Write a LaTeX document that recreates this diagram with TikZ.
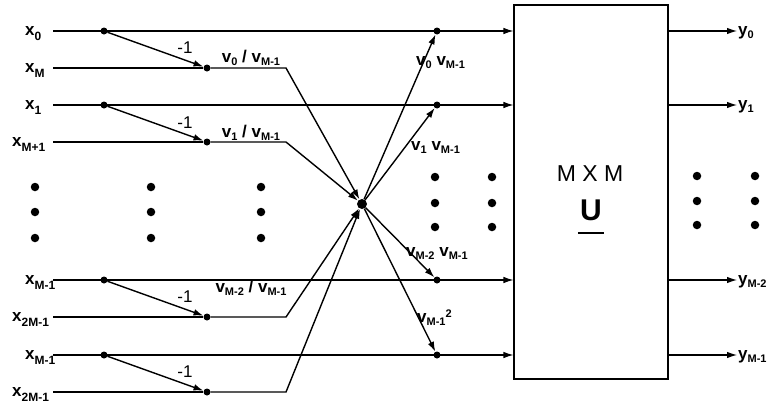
\documentclass[tikz,border=0pt]{standalone}
\usepackage{fontspec}
\setmainfont{Liberation Sans}
\usetikzlibrary{arrows.meta}
\newcommand\xsb[2]{#1\raisebox{-5.5pt}{\fontsize{12}{12}\selectfont #2}}
\newcommand\vsb[2]{#1\raisebox{-3.5pt}{\fontsize{11}{11}\selectfont #2}}
\begin{document}
\begin{tikzpicture}[x=1pt,y=-1pt,
  wire/.style={line width=1.1pt},
  harr/.style={line width=1.1pt,-{Latex[length=10pt,width=6.5pt]}},
  darr/.style={line width=1.4pt,-{Latex[length=10pt,width=6.5pt]}},
  jdot/.style={circle,fill,inner sep=0pt,minimum size=7pt},
  bdot/.style={circle,fill,inner sep=0pt,minimum size=8.5pt},
  cdot/.style={circle,fill,inner sep=0pt,minimum size=10pt},
  lab/.style={inner sep=0pt,font=\fontsize{17}{17}\bfseries\selectfont},
  one/.style={inner sep=0pt,font=\fontsize{17}{17}\selectfont},
  ubox/.style={draw,line width=1.1pt,minimum width=154pt,minimum height=374pt,inner sep=0pt}]
\useasboundingbox (0,0) rectangle (781,407);
% input labels
\node[lab,anchor=base west] (lx0) at (25,35) {\xsb{x}{0}};
\node[lab,anchor=base west] (lx1) at (25,72) {\xsb{x}{M}};
\node[lab,anchor=base west] (lx2) at (25,109) {\xsb{x}{1}};
\node[lab,anchor=base west] (lx3) at (12,146) {\xsb{x}{M+1}};
\node[lab,anchor=base west] (lx4) at (25,284) {\xsb{x}{M-1}};
\node[lab,anchor=base west] (lx5) at (12,321) {\xsb{x}{2M-1}};
\node[lab,anchor=base west] (lx6) at (25,359) {\xsb{x}{M-1}};
\node[lab,anchor=base west] (lx7) at (12,396) {\xsb{x}{2M-1}};
% line starts
\coordinate (s0) at (53,31);
\coordinate (s1) at (53,68);
\coordinate (s2) at (53,105);
\coordinate (s3) at (53,142);
\coordinate (s4) at (53,280);
\coordinate (s5) at (53,317);
\coordinate (s6) at (53,355);
\coordinate (s7) at (53,392);
% bends
\coordinate (k1) at (286,68);
\coordinate (k3) at (286,142);
\coordinate (k5) at (286,317);
\coordinate (k7) at (286,392);
% box
\node[ubox] (U) at (591,192) {};
\node[inner sep=0pt,font=\fontsize{23}{23}\selectfont] (mxm) at (590,174) {M X M};
\node[inner sep=0pt,anchor=base,font=\fontsize{30}{30}\bfseries\selectfont] (ulab) at (591,220) {U};
\draw[line width=2pt] ([xshift=-2pt,yshift=-13pt]ulab.base west) -- ([xshift=2pt,yshift=-13pt]ulab.base east);
% junctions
\node[jdot] (a0) at (104,31) {};
\node[jdot] (a2) at (104,105) {};
\node[jdot] (a4) at (104,280) {};
\node[jdot] (a6) at (104,355) {};
\node[jdot] (b1) at (207,68) {};
\node[jdot] (b3) at (207,142) {};
\node[jdot] (b5) at (207,317) {};
\node[jdot] (b7) at (207,392) {};
\node[cdot] (c) at (362,204) {};
\node[jdot] (o0) at (437,31) {};
\node[jdot] (o2) at (437,105) {};
\node[jdot] (o4) at (437,280) {};
\node[jdot] (o6) at (437,355) {};
% straight lines into box
\draw[harr] (s0) -- (s0 -| U.west);
\draw[harr] (s2) -- (s2 -| U.west);
\draw[harr] (s4) -- (s4 -| U.west);
\draw[harr] (s6) -- (s6 -| U.west);
% lower lines to centre
\draw[wire] (s1) -- (b1);
\draw[wire] (s3) -- (b3);
\draw[wire] (s5) -- (b5);
\draw[wire] (s7) -- (b7);
\draw[darr] (b1) -- (k1) -- (c);
\draw[darr] (b3) -- (k3) -- (c);
\draw[darr] (b5) -- (k5) -- (c);
\draw[darr] (b7) -- (k7) -- (c);
% -1 branches
\draw[darr] (a0) -- (b1);
\draw[darr] (a2) -- (b3);
\draw[darr] (a4) -- (b5);
\draw[darr] (a6) -- (b7);
% centre to outputs
\draw[darr] (c) -- (o0);
\draw[darr] (c) -- (o2);
\draw[darr] (c) -- (o4);
\draw[darr] (c) -- (o6);
% -1 labels
\node[one] (m0) at (185,48) {-1};
\node[one] (m1) at (185,123) {-1};
\node[one] (m2) at (185,297) {-1};
\node[one] (m3) at (185,372) {-1};
% ratio labels
\node[lab,anchor=base] (r0) at (251,62) {\vsb{v}{0} / \vsb{v}{M-1}};
\node[lab,anchor=base] (r1) at (251,137) {\vsb{v}{1} / \vsb{v}{M-1}};
\node[lab,anchor=base] (r2) at (251,292) {\vsb{v}{M-2} / \vsb{v}{M-1}};
% product labels
\node[lab,anchor=base west] (p0) at (416,65) {\vsb{v}{0} \vsb{v}{M-1}};
\node[lab,anchor=base west] (p1) at (411,150) {\vsb{v}{1} \vsb{v}{M-1}};
\node[lab,anchor=base west] (p2) at (406,256) {\vsb{v}{M-2} \vsb{v}{M-1}};
\node[lab,anchor=base west] (p3) at (417,322) {\vsb{v}{M-1}\raisebox{5pt}{\fontsize{11}{11}\selectfont 2}};
% outputs
\coordinate (t0) at (737,31);
\coordinate (t1) at (737,105);
\coordinate (t2) at (737,280);
\coordinate (t3) at (737,355);
\draw[harr] (U.east |- t0) -- (t0);
\draw[harr] (U.east |- t1) -- (t1);
\draw[harr] (U.east |- t2) -- (t2);
\draw[harr] (U.east |- t3) -- (t3);
\node[lab,anchor=base west] (y0) at (738,35) {\vsb{y}{0}};
\node[lab,anchor=base west] (y1) at (738,109) {\vsb{y}{1}};
\node[lab,anchor=base west] (y2) at (738,284) {\vsb{y}{M-2}};
\node[lab,anchor=base west] (y3) at (738,359) {\vsb{y}{M-1}};
% ellipsis dots
\foreach \xx/\yy [count=\i] in {35/187,35/212,35/238,151/187,151/212,151/238,261/187,261/212,261/238,
  435/177,435/203,435/227,492/177,492/203,492/227,
  697/176,697/201,697/225,755/176,755/201,755/225}
  \node[bdot] (d\i) at (\xx,\yy) {};
\end{tikzpicture}
\end{document}
